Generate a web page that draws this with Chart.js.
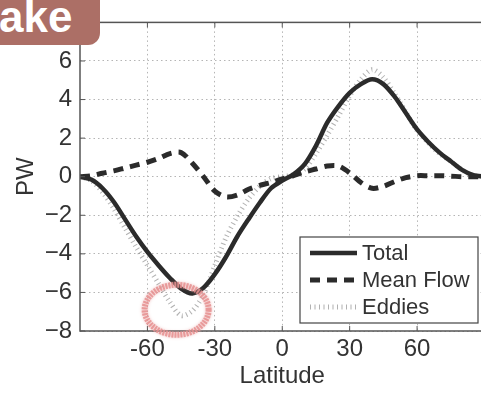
<!DOCTYPE html>
<html>
<head>
<meta charset="utf-8">
<script src="https://cdn.jsdelivr.net/npm/chart.js@4/dist/chart.umd.min.js"></script>
<style>
  html, body { margin: 0; padding: 0; background: #fff; overflow: hidden; }
  #wrap { position: relative; width: 490px; height: 395px; }
  #tag {
    position: absolute; left: 0; top: 0; width: 100px; height: 45px;
    background: #ac6f66; border-bottom-right-radius: 12px;
    color: #fff; font: bold 44px "Liberation Sans", Arial, sans-serif;
    line-height: 44px; overflow: hidden;
  }
  #tag span { position: absolute; left: -1px; top: -5px; }
</style>
</head>
<body>
<div id="wrap">
  <canvas id="grafico" width="490" height="395"></canvas>
  <div id="tag"><span>ake</span></div>
</div>
<script>
const latitudes = [-90, -85, -80, -75, -70, -65, -60, -55, -50, -45, -40, -35, -30, -25, -20, -15, -10, -5,
  0, 5, 10, 15, 20, 25, 30, 35, 40, 45, 50, 55, 60, 65, 70, 75, 80, 85, 90]

const total = [0, -0.15, -0.6, -1.3, -2.2, -3.1, -3.9, -4.6, -5.25, -5.8, -6.05, -5.75, -5.05, -4.15, -3.1, -2.2, -1.35, -0.6,
  -0.2, 0.12, 0.65, 1.6, 2.8, 3.65, 4.35, 4.8, 5.05, 4.8, 4.15, 3.3, 2.45, 1.8, 1.25, 0.8, 0.35, 0.08, 0]

const meanFlow = [0, 0.05, 0.18, 0.3, 0.45, 0.6, 0.75, 0.95, 1.2, 1.25, 0.7, 0.0, -0.75, -1.05, -0.95, -0.65, -0.45, -0.3,
  -0.12, 0.05, 0.25, 0.4, 0.55, 0.55, 0.2, -0.3, -0.6, -0.5, -0.25, -0.05, 0.05, 0.05, 0.05, 0.03, 0, 0, 0]

const eddies = [0, -0.2, -0.8, -1.65, -2.65, -3.65, -4.6, -5.55, -6.5, -7.2, -6.95, -6.1, -4.6, -3.15, -2.05, -1.15, -0.5, -0.1,
  0, 0.1, 0.4, 1.2, 2.15, 3.15, 4.2, 5.05, 5.55, 5.15, 4.3, 3.35, 2.4, 1.75, 1.2, 0.8, 0.35, 0.08, 0]

const xTicks = [-60, -30, 0, 30, 60]
const yTicks = [-8, -6, -4, -2, 0, 2, 4, 6, 8]

// destaque em volta do minimo das eddies
const destaque = { lat: -47, valor: -6.9 }

const ponto = (arr) => latitudes.map((lat, i) => ({ x: lat, y: arr[i] }))
const fonte = '"Liberation Sans", Arial, sans-serif'
const corTexto = '#333'

// moldura, ticks internos, legenda e circulo
const extras = {
  id: 'extras',
  afterDraw(chart) {
    const c = chart.ctx
    const { left, right, top, bottom } = chart.chartArea
    const sx = chart.scales.x
    const sy = chart.scales.y
    c.save()
    c.strokeStyle = '#555'
    c.lineWidth = 1.5
    c.strokeRect(left, top, right - left, bottom - top)
    c.lineWidth = 1
    xTicks.forEach(v => {
      const px = sx.getPixelForValue(v)
      c.beginPath(); c.moveTo(px, bottom); c.lineTo(px, bottom - 5); c.stroke()
      c.beginPath(); c.moveTo(px, top); c.lineTo(px, top + 5); c.stroke()
    })
    yTicks.forEach(v => {
      const py = sy.getPixelForValue(v)
      c.beginPath(); c.moveTo(left, py); c.lineTo(left + 5, py); c.stroke()
    })

    // legenda
    const lx = 300, ly = 237, lw = 178, lh = 86
    c.fillStyle = '#fff'
    c.fillRect(lx, ly, lw, lh)
    c.strokeStyle = '#444'
    c.lineWidth = 1.2
    c.strokeRect(lx, ly, lw, lh)
    c.font = '22px ' + fonte
    c.textBaseline = 'middle'
    chart.data.datasets.forEach((ds, i) => {
      const y = ly + 16 + i * 27
      c.strokeStyle = ds.borderColor
      c.lineWidth = ds.borderWidth
      c.setLineDash(ds.borderDash || [])
      c.beginPath(); c.moveTo(310, y); c.lineTo(357, y); c.stroke()
      c.setLineDash([])
      c.fillStyle = corTexto
      c.fillText(ds.label, 362, y + 1)
    })

    // circulo rosa
    const cx = sx.getPixelForValue(destaque.lat)
    const cy = sy.getPixelForValue(destaque.valor)
    c.strokeStyle = 'rgba(230, 145, 145, 0.85)'
    c.lineWidth = 6
    c.setLineDash([2, 1])
    c.shadowColor = 'rgba(230, 145, 145, 0.8)'
    c.shadowBlur = 3
    c.beginPath()
    c.ellipse(cx, cy, 32, 25, 0, 0, Math.PI * 2)
    c.stroke()
    c.restore()
  }
}

new Chart(document.getElementById('grafico'), {
  type: 'line',
  data: {
    datasets: [
      { label: 'Total', data: ponto(total), borderColor: '#2b2b2b', borderWidth: 4.5 },
      { label: 'Mean Flow', data: ponto(meanFlow), borderColor: '#2b2b2b', borderWidth: 5, borderDash: [10, 7] },
      { label: 'Eddies', data: ponto(eddies), borderColor: 'rgba(125,125,125,0.6)', borderWidth: 5, borderDash: [1, 3.5] }
    ]
  },
  options: {
    responsive: false,
    animation: false,
    events: [],
    layout: { padding: { left: 0, top: 16, right: 5.5, bottom: 0 } },
    elements: {
      point: { radius: 0 },
      line: { tension: 0.3, fill: false, borderCapStyle: 'butt' }
    },
    plugins: { legend: { display: false }, tooltip: { enabled: false } },
    scales: {
      x: {
        type: 'linear',
        min: -90,
        max: 90,
        afterBuildTicks: s => { s.ticks = xTicks.map(v => ({ value: v })) },
        afterFit: s => { s.height = 64 },
        ticks: { color: corTexto, font: { family: fonte, size: 24 }, padding: 4, maxRotation: 0 },
        grid: { color: '#b5b5b5', drawTicks: false },
        border: { display: false, dash: [1.5, 3] },
        title: { display: true, text: 'Latitude', color: corTexto, font: { family: fonte, size: 24 }, padding: { top: 0, bottom: 4 } }
      },
      y: {
        min: -8,
        max: 8,
        afterBuildTicks: s => { s.ticks = yTicks.map(v => ({ value: v })) },
        afterFit: s => { s.width = 80 },
        ticks: { color: corTexto, font: { family: fonte, size: 24 }, padding: 8, callback: v => String(v).replace('-', '\u2212') },
        grid: { color: '#b5b5b5', drawTicks: false },
        border: { display: false, dash: [1.5, 3] },
        title: { display: true, text: 'PW', color: corTexto, font: { family: fonte, size: 24 }, padding: { top: 12, bottom: 0 } }
      }
    }
  },
  plugins: [extras]
})
</script>
</body>
</html>
